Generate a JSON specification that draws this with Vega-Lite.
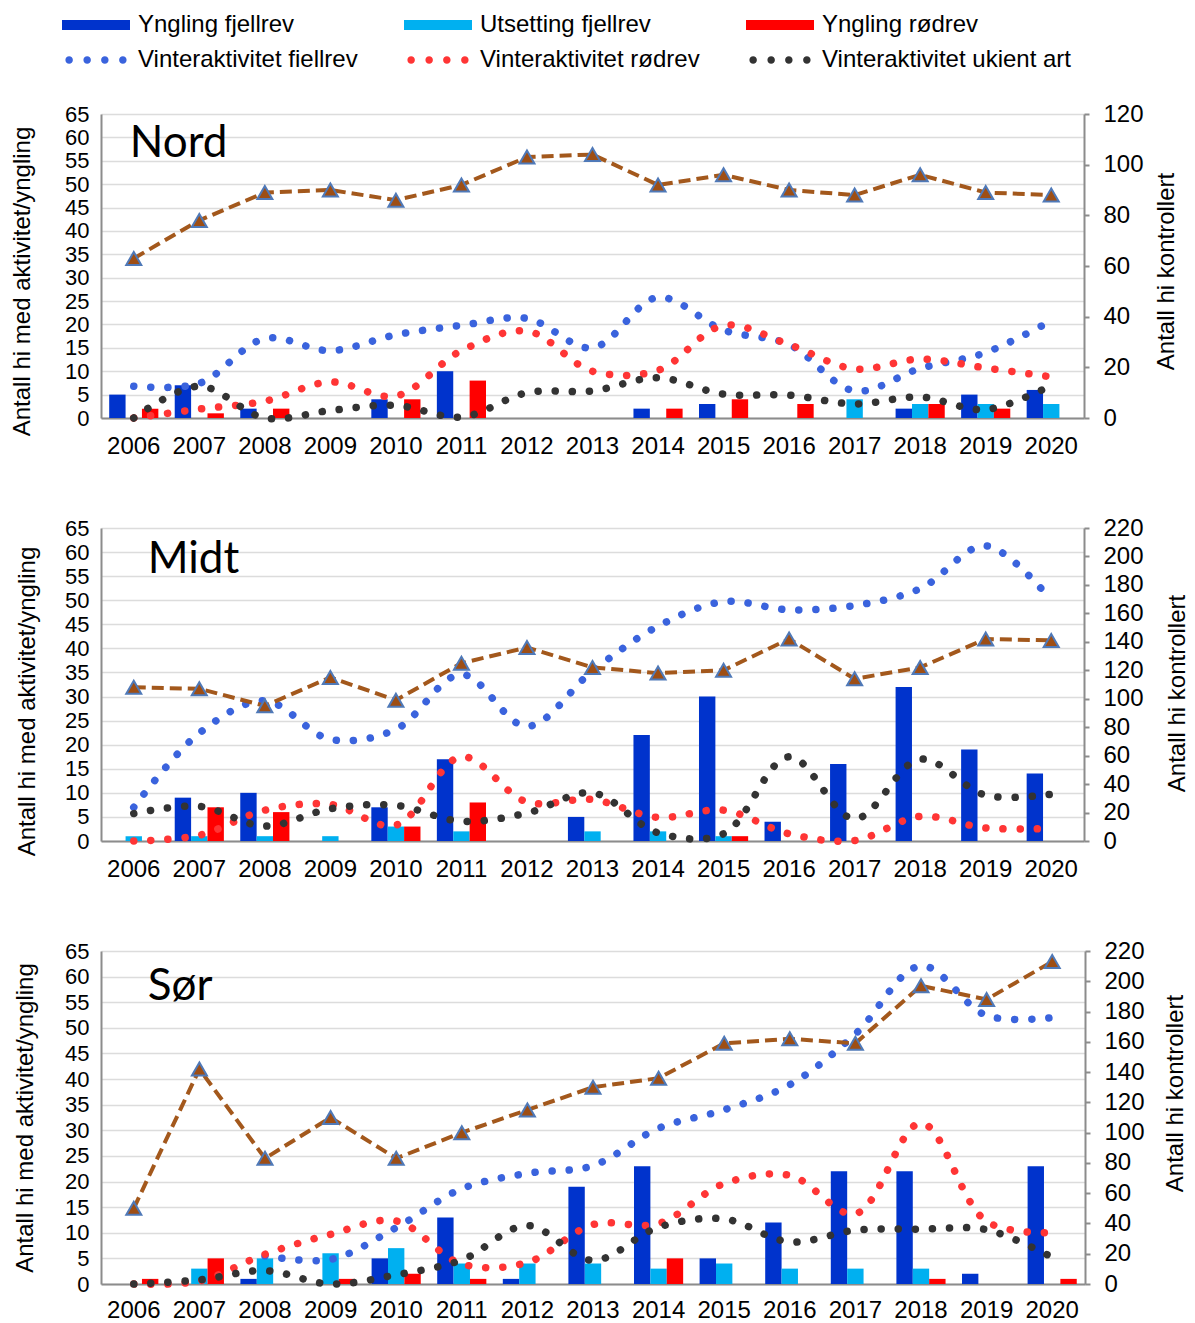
{
  "$schema": "https://vega.github.io/schema/vega-lite/v6.json",
  "padding": {"left": 10, "top": 13, "right": 0, "bottom": 0},
  "autosize": {"type": "pad"},
  "spacing": 58,
  "config": {
    "font": "Liberation Sans",
    "view": {"stroke": null},
    "axis": {"labelFont": "Liberation Sans", "labelFontSize": 24, "labelColor": "#000000", "titleFont": "Liberation Sans", "titleFontSize": 24, "titleFontWeight": "normal", "titleColor": "#000000", "domainColor": "#8C8C8C", "domainWidth": 2, "tickColor": "#8C8C8C", "tickWidth": 2, "gridColor": "#DCDCDC", "gridWidth": 1.5, "labelOverlap": false},
    "axisLeft": {"labelFontSize": 22}
  },
  "resolve": {"scale": {"color": "shared"}, "legend": {"color": "shared"}},
  "datasets": {
    "labels": [{"r": "Nord", "label": "Nord"}, {"r": "Midt", "label": "Midt"}, {"r": "Sør", "label": "Sør"}],
    "bars": [
      {"r": "Nord", "year": "2006", "s": "Yngling fjellrev", "v": 5},
      {"r": "Nord", "year": "2006", "s": "Yngling rødrev", "v": 2},
      {"r": "Nord", "year": "2007", "s": "Yngling fjellrev", "v": 7},
      {"r": "Nord", "year": "2007", "s": "Yngling rødrev", "v": 1},
      {"r": "Nord", "year": "2008", "s": "Yngling fjellrev", "v": 2},
      {"r": "Nord", "year": "2008", "s": "Yngling rødrev", "v": 2},
      {"r": "Nord", "year": "2010", "s": "Yngling fjellrev", "v": 4},
      {"r": "Nord", "year": "2010", "s": "Yngling rødrev", "v": 4},
      {"r": "Nord", "year": "2011", "s": "Yngling fjellrev", "v": 10},
      {"r": "Nord", "year": "2011", "s": "Yngling rødrev", "v": 8},
      {"r": "Nord", "year": "2014", "s": "Yngling fjellrev", "v": 2},
      {"r": "Nord", "year": "2014", "s": "Yngling rødrev", "v": 2},
      {"r": "Nord", "year": "2015", "s": "Yngling fjellrev", "v": 3},
      {"r": "Nord", "year": "2015", "s": "Yngling rødrev", "v": 4},
      {"r": "Nord", "year": "2016", "s": "Yngling rødrev", "v": 3},
      {"r": "Nord", "year": "2017", "s": "Utsetting fjellrev", "v": 4},
      {"r": "Nord", "year": "2018", "s": "Yngling fjellrev", "v": 2},
      {"r": "Nord", "year": "2018", "s": "Utsetting fjellrev", "v": 3},
      {"r": "Nord", "year": "2018", "s": "Yngling rødrev", "v": 3},
      {"r": "Nord", "year": "2019", "s": "Yngling fjellrev", "v": 5},
      {"r": "Nord", "year": "2019", "s": "Utsetting fjellrev", "v": 3},
      {"r": "Nord", "year": "2019", "s": "Yngling rødrev", "v": 2},
      {"r": "Nord", "year": "2020", "s": "Yngling fjellrev", "v": 6},
      {"r": "Nord", "year": "2020", "s": "Utsetting fjellrev", "v": 3},
      {"r": "Midt", "year": "2006", "s": "Utsetting fjellrev", "v": 1},
      {"r": "Midt", "year": "2007", "s": "Yngling fjellrev", "v": 9},
      {"r": "Midt", "year": "2007", "s": "Utsetting fjellrev", "v": 1},
      {"r": "Midt", "year": "2007", "s": "Yngling rødrev", "v": 7},
      {"r": "Midt", "year": "2008", "s": "Yngling fjellrev", "v": 10},
      {"r": "Midt", "year": "2008", "s": "Utsetting fjellrev", "v": 1},
      {"r": "Midt", "year": "2008", "s": "Yngling rødrev", "v": 6},
      {"r": "Midt", "year": "2009", "s": "Utsetting fjellrev", "v": 1},
      {"r": "Midt", "year": "2010", "s": "Yngling fjellrev", "v": 7},
      {"r": "Midt", "year": "2010", "s": "Utsetting fjellrev", "v": 3},
      {"r": "Midt", "year": "2010", "s": "Yngling rødrev", "v": 3},
      {"r": "Midt", "year": "2011", "s": "Yngling fjellrev", "v": 17},
      {"r": "Midt", "year": "2011", "s": "Utsetting fjellrev", "v": 2},
      {"r": "Midt", "year": "2011", "s": "Yngling rødrev", "v": 8},
      {"r": "Midt", "year": "2013", "s": "Yngling fjellrev", "v": 5},
      {"r": "Midt", "year": "2013", "s": "Utsetting fjellrev", "v": 2},
      {"r": "Midt", "year": "2014", "s": "Yngling fjellrev", "v": 22},
      {"r": "Midt", "year": "2014", "s": "Utsetting fjellrev", "v": 2},
      {"r": "Midt", "year": "2015", "s": "Yngling fjellrev", "v": 30},
      {"r": "Midt", "year": "2015", "s": "Utsetting fjellrev", "v": 1},
      {"r": "Midt", "year": "2015", "s": "Yngling rødrev", "v": 1},
      {"r": "Midt", "year": "2016", "s": "Yngling fjellrev", "v": 4},
      {"r": "Midt", "year": "2017", "s": "Yngling fjellrev", "v": 16},
      {"r": "Midt", "year": "2018", "s": "Yngling fjellrev", "v": 32},
      {"r": "Midt", "year": "2019", "s": "Yngling fjellrev", "v": 19},
      {"r": "Midt", "year": "2020", "s": "Yngling fjellrev", "v": 14},
      {"r": "Sør", "year": "2006", "s": "Yngling rødrev", "v": 1},
      {"r": "Sør", "year": "2007", "s": "Utsetting fjellrev", "v": 3},
      {"r": "Sør", "year": "2007", "s": "Yngling rødrev", "v": 5},
      {"r": "Sør", "year": "2008", "s": "Yngling fjellrev", "v": 1},
      {"r": "Sør", "year": "2008", "s": "Utsetting fjellrev", "v": 5},
      {"r": "Sør", "year": "2009", "s": "Utsetting fjellrev", "v": 6},
      {"r": "Sør", "year": "2009", "s": "Yngling rødrev", "v": 1},
      {"r": "Sør", "year": "2010", "s": "Yngling fjellrev", "v": 5},
      {"r": "Sør", "year": "2010", "s": "Utsetting fjellrev", "v": 7},
      {"r": "Sør", "year": "2010", "s": "Yngling rødrev", "v": 2},
      {"r": "Sør", "year": "2011", "s": "Yngling fjellrev", "v": 13},
      {"r": "Sør", "year": "2011", "s": "Utsetting fjellrev", "v": 4},
      {"r": "Sør", "year": "2011", "s": "Yngling rødrev", "v": 1},
      {"r": "Sør", "year": "2012", "s": "Yngling fjellrev", "v": 1},
      {"r": "Sør", "year": "2012", "s": "Utsetting fjellrev", "v": 4},
      {"r": "Sør", "year": "2013", "s": "Yngling fjellrev", "v": 19},
      {"r": "Sør", "year": "2013", "s": "Utsetting fjellrev", "v": 4},
      {"r": "Sør", "year": "2014", "s": "Yngling fjellrev", "v": 23},
      {"r": "Sør", "year": "2014", "s": "Utsetting fjellrev", "v": 3},
      {"r": "Sør", "year": "2014", "s": "Yngling rødrev", "v": 5},
      {"r": "Sør", "year": "2015", "s": "Yngling fjellrev", "v": 5},
      {"r": "Sør", "year": "2015", "s": "Utsetting fjellrev", "v": 4},
      {"r": "Sør", "year": "2016", "s": "Yngling fjellrev", "v": 12},
      {"r": "Sør", "year": "2016", "s": "Utsetting fjellrev", "v": 3},
      {"r": "Sør", "year": "2017", "s": "Yngling fjellrev", "v": 22},
      {"r": "Sør", "year": "2017", "s": "Utsetting fjellrev", "v": 3},
      {"r": "Sør", "year": "2018", "s": "Yngling fjellrev", "v": 22},
      {"r": "Sør", "year": "2018", "s": "Utsetting fjellrev", "v": 3},
      {"r": "Sør", "year": "2018", "s": "Yngling rødrev", "v": 1},
      {"r": "Sør", "year": "2019", "s": "Yngling fjellrev", "v": 2},
      {"r": "Sør", "year": "2020", "s": "Yngling fjellrev", "v": 23},
      {"r": "Sør", "year": "2020", "s": "Yngling rødrev", "v": 1}
    ],
    "winter": [
      {"r": "Nord", "year": "2006", "s": "Vinteraktivitet fiellrev", "v": 6.8},
      {"r": "Nord", "year": "2007", "s": "Vinteraktivitet fiellrev", "v": 7.4},
      {"r": "Nord", "year": "2008", "s": "Vinteraktivitet fiellrev", "v": 17.0},
      {"r": "Nord", "year": "2009", "s": "Vinteraktivitet fiellrev", "v": 14.4},
      {"r": "Nord", "year": "2010", "s": "Vinteraktivitet fiellrev", "v": 17.8},
      {"r": "Nord", "year": "2011", "s": "Vinteraktivitet fiellrev", "v": 19.8},
      {"r": "Nord", "year": "2012", "s": "Vinteraktivitet fiellrev", "v": 21.3},
      {"r": "Nord", "year": "2013", "s": "Vinteraktivitet fiellrev", "v": 15.0},
      {"r": "Nord", "year": "2014", "s": "Vinteraktivitet fiellrev", "v": 25.8},
      {"r": "Nord", "year": "2015", "s": "Vinteraktivitet fiellrev", "v": 18.8},
      {"r": "Nord", "year": "2016", "s": "Vinteraktivitet fiellrev", "v": 15.7},
      {"r": "Nord", "year": "2017", "s": "Vinteraktivitet fiellrev", "v": 5.8},
      {"r": "Nord", "year": "2018", "s": "Vinteraktivitet fiellrev", "v": 10.6},
      {"r": "Nord", "year": "2019", "s": "Vinteraktivitet fiellrev", "v": 14.0},
      {"r": "Nord", "year": "2020", "s": "Vinteraktivitet fiellrev", "v": 20.8},
      {"r": "Nord", "year": "2006", "s": "Vinteraktivitet rødrev", "v": 0},
      {"r": "Nord", "year": "2007", "s": "Vinteraktivitet rødrev", "v": 1.9},
      {"r": "Nord", "year": "2008", "s": "Vinteraktivitet rødrev", "v": 3.6},
      {"r": "Nord", "year": "2009", "s": "Vinteraktivitet rødrev", "v": 7.7},
      {"r": "Nord", "year": "2010", "s": "Vinteraktivitet rødrev", "v": 4.7},
      {"r": "Nord", "year": "2011", "s": "Vinteraktivitet rødrev", "v": 14.4},
      {"r": "Nord", "year": "2012", "s": "Vinteraktivitet rødrev", "v": 18.6},
      {"r": "Nord", "year": "2013", "s": "Vinteraktivitet rødrev", "v": 10.0},
      {"r": "Nord", "year": "2014", "s": "Vinteraktivitet rødrev", "v": 10.2},
      {"r": "Nord", "year": "2015", "s": "Vinteraktivitet rødrev", "v": 19.8},
      {"r": "Nord", "year": "2016", "s": "Vinteraktivitet rødrev", "v": 15.7},
      {"r": "Nord", "year": "2017", "s": "Vinteraktivitet rødrev", "v": 10.5},
      {"r": "Nord", "year": "2018", "s": "Vinteraktivitet rødrev", "v": 12.6},
      {"r": "Nord", "year": "2019", "s": "Vinteraktivitet rødrev", "v": 10.7},
      {"r": "Nord", "year": "2020", "s": "Vinteraktivitet rødrev", "v": 8.8},
      {"r": "Nord", "year": "2006", "s": "Vinteraktivitet ukient art", "v": 0},
      {"r": "Nord", "year": "2007", "s": "Vinteraktivitet ukient art", "v": 6.8},
      {"r": "Nord", "year": "2008", "s": "Vinteraktivitet ukient art", "v": 0},
      {"r": "Nord", "year": "2009", "s": "Vinteraktivitet ukient art", "v": 1.6},
      {"r": "Nord", "year": "2010", "s": "Vinteraktivitet ukient art", "v": 2.7},
      {"r": "Nord", "year": "2011", "s": "Vinteraktivitet ukient art", "v": 0.2},
      {"r": "Nord", "year": "2012", "s": "Vinteraktivitet ukient art", "v": 5.4},
      {"r": "Nord", "year": "2013", "s": "Vinteraktivitet ukient art", "v": 5.8},
      {"r": "Nord", "year": "2014", "s": "Vinteraktivitet ukient art", "v": 8.6},
      {"r": "Nord", "year": "2015", "s": "Vinteraktivitet ukient art", "v": 5.1},
      {"r": "Nord", "year": "2016", "s": "Vinteraktivitet ukient art", "v": 4.9},
      {"r": "Nord", "year": "2017", "s": "Vinteraktivitet ukient art", "v": 3.0},
      {"r": "Nord", "year": "2018", "s": "Vinteraktivitet ukient art", "v": 4.5},
      {"r": "Nord", "year": "2019", "s": "Vinteraktivitet ukient art", "v": 1.8},
      {"r": "Nord", "year": "2020", "s": "Vinteraktivitet ukient art", "v": 7.0},
      {"r": "Midt", "year": "2006", "s": "Vinteraktivitet fiellrev", "v": 7.0},
      {"r": "Midt", "year": "2007", "s": "Vinteraktivitet fiellrev", "v": 22.4},
      {"r": "Midt", "year": "2008", "s": "Vinteraktivitet fiellrev", "v": 29.1},
      {"r": "Midt", "year": "2009", "s": "Vinteraktivitet fiellrev", "v": 21.1},
      {"r": "Midt", "year": "2010", "s": "Vinteraktivitet fiellrev", "v": 23.2},
      {"r": "Midt", "year": "2011", "s": "Vinteraktivitet fiellrev", "v": 34.6},
      {"r": "Midt", "year": "2012", "s": "Vinteraktivitet fiellrev", "v": 23.8},
      {"r": "Midt", "year": "2013", "s": "Vinteraktivitet fiellrev", "v": 35.3},
      {"r": "Midt", "year": "2014", "s": "Vinteraktivitet fiellrev", "v": 44.6},
      {"r": "Midt", "year": "2015", "s": "Vinteraktivitet fiellrev", "v": 49.7},
      {"r": "Midt", "year": "2016", "s": "Vinteraktivitet fiellrev", "v": 48.0},
      {"r": "Midt", "year": "2017", "s": "Vinteraktivitet fiellrev", "v": 48.9},
      {"r": "Midt", "year": "2018", "s": "Vinteraktivitet fiellrev", "v": 52.4},
      {"r": "Midt", "year": "2019", "s": "Vinteraktivitet fiellrev", "v": 61.3},
      {"r": "Midt", "year": "2020", "s": "Vinteraktivitet fiellrev", "v": 50.0},
      {"r": "Midt", "year": "2006", "s": "Vinteraktivitet rødrev", "v": 0},
      {"r": "Midt", "year": "2007", "s": "Vinteraktivitet rødrev", "v": 1.2},
      {"r": "Midt", "year": "2008", "s": "Vinteraktivitet rødrev", "v": 6.4},
      {"r": "Midt", "year": "2009", "s": "Vinteraktivitet rødrev", "v": 7.6},
      {"r": "Midt", "year": "2010", "s": "Vinteraktivitet rødrev", "v": 3.3},
      {"r": "Midt", "year": "2011", "s": "Vinteraktivitet rødrev", "v": 17.5},
      {"r": "Midt", "year": "2012", "s": "Vinteraktivitet rødrev", "v": 8.1},
      {"r": "Midt", "year": "2013", "s": "Vinteraktivitet rødrev", "v": 8.6},
      {"r": "Midt", "year": "2014", "s": "Vinteraktivitet rødrev", "v": 4.9},
      {"r": "Midt", "year": "2015", "s": "Vinteraktivitet rødrev", "v": 6.4},
      {"r": "Midt", "year": "2016", "s": "Vinteraktivitet rødrev", "v": 1.5},
      {"r": "Midt", "year": "2017", "s": "Vinteraktivitet rødrev", "v": 0.1},
      {"r": "Midt", "year": "2018", "s": "Vinteraktivitet rødrev", "v": 5.1},
      {"r": "Midt", "year": "2019", "s": "Vinteraktivitet rødrev", "v": 2.7},
      {"r": "Midt", "year": "2020", "s": "Vinteraktivitet rødrev", "v": 2.6},
      {"r": "Midt", "year": "2006", "s": "Vinteraktivitet ukient art", "v": 5.7},
      {"r": "Midt", "year": "2007", "s": "Vinteraktivitet ukient art", "v": 7.2},
      {"r": "Midt", "year": "2008", "s": "Vinteraktivitet ukient art", "v": 3.1},
      {"r": "Midt", "year": "2009", "s": "Vinteraktivitet ukient art", "v": 6.7},
      {"r": "Midt", "year": "2010", "s": "Vinteraktivitet ukient art", "v": 7.4},
      {"r": "Midt", "year": "2011", "s": "Vinteraktivitet ukient art", "v": 4.1},
      {"r": "Midt", "year": "2012", "s": "Vinteraktivitet ukient art", "v": 5.8},
      {"r": "Midt", "year": "2013", "s": "Vinteraktivitet ukient art", "v": 10.0},
      {"r": "Midt", "year": "2014", "s": "Vinteraktivitet ukient art", "v": 1.7},
      {"r": "Midt", "year": "2015", "s": "Vinteraktivitet ukient art", "v": 1.5},
      {"r": "Midt", "year": "2016", "s": "Vinteraktivitet ukient art", "v": 17.5},
      {"r": "Midt", "year": "2017", "s": "Vinteraktivitet ukient art", "v": 4.6},
      {"r": "Midt", "year": "2018", "s": "Vinteraktivitet ukient art", "v": 17.0},
      {"r": "Midt", "year": "2019", "s": "Vinteraktivitet ukient art", "v": 9.5},
      {"r": "Midt", "year": "2020", "s": "Vinteraktivitet ukient art", "v": 9.7},
      {"r": "Sør", "year": "2008", "s": "Vinteraktivitet fiellrev", "v": 5.5},
      {"r": "Sør", "year": "2009", "s": "Vinteraktivitet fiellrev", "v": 4.8},
      {"r": "Sør", "year": "2010", "s": "Vinteraktivitet fiellrev", "v": 11.0},
      {"r": "Sør", "year": "2011", "s": "Vinteraktivitet fiellrev", "v": 18.6},
      {"r": "Sør", "year": "2012", "s": "Vinteraktivitet fiellrev", "v": 21.6},
      {"r": "Sør", "year": "2013", "s": "Vinteraktivitet fiellrev", "v": 23.1},
      {"r": "Sør", "year": "2014", "s": "Vinteraktivitet fiellrev", "v": 30.4},
      {"r": "Sør", "year": "2015", "s": "Vinteraktivitet fiellrev", "v": 34.0},
      {"r": "Sør", "year": "2016", "s": "Vinteraktivitet fiellrev", "v": 38.9},
      {"r": "Sør", "year": "2017", "s": "Vinteraktivitet fiellrev", "v": 48.8},
      {"r": "Sør", "year": "2018", "s": "Vinteraktivitet fiellrev", "v": 62.1},
      {"r": "Sør", "year": "2019", "s": "Vinteraktivitet fiellrev", "v": 52.4},
      {"r": "Sør", "year": "2020", "s": "Vinteraktivitet fiellrev", "v": 52.0},
      {"r": "Sør", "year": "2006", "s": "Vinteraktivitet rødrev", "v": 0},
      {"r": "Sør", "year": "2007", "s": "Vinteraktivitet rødrev", "v": 0.6},
      {"r": "Sør", "year": "2008", "s": "Vinteraktivitet rødrev", "v": 5.8},
      {"r": "Sør", "year": "2009", "s": "Vinteraktivitet rødrev", "v": 9.7},
      {"r": "Sør", "year": "2010", "s": "Vinteraktivitet rødrev", "v": 12.3},
      {"r": "Sør", "year": "2011", "s": "Vinteraktivitet rødrev", "v": 3.9},
      {"r": "Sør", "year": "2012", "s": "Vinteraktivitet rødrev", "v": 4.2},
      {"r": "Sør", "year": "2013", "s": "Vinteraktivitet rødrev", "v": 11.6},
      {"r": "Sør", "year": "2014", "s": "Vinteraktivitet rødrev", "v": 11.8},
      {"r": "Sør", "year": "2015", "s": "Vinteraktivitet rødrev", "v": 19.6},
      {"r": "Sør", "year": "2016", "s": "Vinteraktivitet rødrev", "v": 21.2},
      {"r": "Sør", "year": "2017", "s": "Vinteraktivitet rødrev", "v": 13.7},
      {"r": "Sør", "year": "2018", "s": "Vinteraktivitet rødrev", "v": 31.4},
      {"r": "Sør", "year": "2019", "s": "Vinteraktivitet rødrev", "v": 12.2},
      {"r": "Sør", "year": "2020", "s": "Vinteraktivitet rødrev", "v": 10.0},
      {"r": "Sør", "year": "2006", "s": "Vinteraktivitet ukient art", "v": 0},
      {"r": "Sør", "year": "2007", "s": "Vinteraktivitet ukient art", "v": 0.8},
      {"r": "Sør", "year": "2008", "s": "Vinteraktivitet ukient art", "v": 2.6},
      {"r": "Sør", "year": "2009", "s": "Vinteraktivitet ukient art", "v": 0},
      {"r": "Sør", "year": "2010", "s": "Vinteraktivitet ukient art", "v": 1.8},
      {"r": "Sør", "year": "2011", "s": "Vinteraktivitet ukient art", "v": 4.7},
      {"r": "Sør", "year": "2012", "s": "Vinteraktivitet ukient art", "v": 11.4},
      {"r": "Sør", "year": "2013", "s": "Vinteraktivitet ukient art", "v": 4.6},
      {"r": "Sør", "year": "2014", "s": "Vinteraktivitet ukient art", "v": 11.1},
      {"r": "Sør", "year": "2015", "s": "Vinteraktivitet ukient art", "v": 12.7},
      {"r": "Sør", "year": "2016", "s": "Vinteraktivitet ukient art", "v": 8.2},
      {"r": "Sør", "year": "2017", "s": "Vinteraktivitet ukient art", "v": 10.5},
      {"r": "Sør", "year": "2018", "s": "Vinteraktivitet ukient art", "v": 10.7},
      {"r": "Sør", "year": "2019", "s": "Vinteraktivitet ukient art", "v": 10.6},
      {"r": "Sør", "year": "2020", "s": "Vinteraktivitet ukient art", "v": 5.2}
    ],
    "ctrl": [
      {"r": "Nord", "year": "2006", "v": 63}, {"r": "Nord", "year": "2007", "v": 78}, {"r": "Nord", "year": "2008", "v": 89},
      {"r": "Nord", "year": "2009", "v": 90}, {"r": "Nord", "year": "2010", "v": 86}, {"r": "Nord", "year": "2011", "v": 92},
      {"r": "Nord", "year": "2012", "v": 103}, {"r": "Nord", "year": "2013", "v": 104}, {"r": "Nord", "year": "2014", "v": 92},
      {"r": "Nord", "year": "2015", "v": 96}, {"r": "Nord", "year": "2016", "v": 90}, {"r": "Nord", "year": "2017", "v": 88},
      {"r": "Nord", "year": "2018", "v": 96}, {"r": "Nord", "year": "2019", "v": 89}, {"r": "Nord", "year": "2020", "v": 88},
      {"r": "Midt", "year": "2006", "v": 108}, {"r": "Midt", "year": "2007", "v": 107}, {"r": "Midt", "year": "2008", "v": 95},
      {"r": "Midt", "year": "2009", "v": 115}, {"r": "Midt", "year": "2010", "v": 99}, {"r": "Midt", "year": "2011", "v": 125},
      {"r": "Midt", "year": "2012", "v": 136}, {"r": "Midt", "year": "2013", "v": 122}, {"r": "Midt", "year": "2014", "v": 118},
      {"r": "Midt", "year": "2015", "v": 120}, {"r": "Midt", "year": "2016", "v": 142}, {"r": "Midt", "year": "2017", "v": 114},
      {"r": "Midt", "year": "2018", "v": 122}, {"r": "Midt", "year": "2019", "v": 142}, {"r": "Midt", "year": "2020", "v": 141},
      {"r": "Sør", "year": "2006", "v": 50}, {"r": "Sør", "year": "2007", "v": 142}, {"r": "Sør", "year": "2008", "v": 83},
      {"r": "Sør", "year": "2009", "v": 110}, {"r": "Sør", "year": "2010", "v": 83}, {"r": "Sør", "year": "2011", "v": 100},
      {"r": "Sør", "year": "2012", "v": 115}, {"r": "Sør", "year": "2013", "v": 130}, {"r": "Sør", "year": "2014", "v": 136},
      {"r": "Sør", "year": "2015", "v": 159}, {"r": "Sør", "year": "2016", "v": 162}, {"r": "Sør", "year": "2017", "v": 159},
      {"r": "Sør", "year": "2018", "v": 197}, {"r": "Sør", "year": "2019", "v": 188}, {"r": "Sør", "year": "2020", "v": 213}
    ]
  },
  "vconcat": [
    {
      "width": 983, "height": 304,
      "resolve": {"scale": {"y": "independent"}},
      "layer": [
        {
          "layer": [
            {
              "data": {"name": "bars"},
              "transform": [{"filter": "datum.r === 'Nord'"}],
              "mark": {"type": "bar"},
              "encoding": {
                "x": {"field": "year", "type": "nominal", "scale": {"domain": ["2006","2007","2008","2009","2010","2011","2012","2013","2014","2015","2016","2017","2018","2019","2020"], "paddingInner": 0.25, "paddingOuter": 0.125}, "axis": {"title": null, "labelAngle": 0, "ticks": false, "tickSize": 0, "labelPadding": 16, "grid": false}},
                "xOffset": {"field": "s", "type": "nominal", "scale": {"domain": ["Yngling fjellrev", "Utsetting fjellrev", "Yngling rødrev"], "paddingInner": 0, "paddingOuter": 0}},
                "y": {"field": "v", "type": "quantitative", "scale": {"domain": [0, 65], "nice": false}, "axis": {"orient": "left", "values": [0,5,10,15,20,25,30,35,40,45,50,55,60,65], "title": "Antall hi med aktivitet/yngling", "ticks": false, "tickSize": 0, "labelPadding": 12, "titlePadding": 30, "titleY": 167, "grid": true}},
                "color": {"field": "s", "type": "nominal",
                  "scale": {"domain": ["Yngling fjellrev", "Utsetting fjellrev", "Yngling rødrev", "Vinteraktivitet fiellrev", "Vinteraktivitet rødrev", "Vinteraktivitet ukient art"], "range": ["#0033CC", "#00B0F0", "#FF0000", "#3A63DD", "#FF3535", "#333333"]},
                  "legend": {
                    "title": null, "orient": "none", "direction": "horizontal", "legendX": -39, "legendY": -101, "columns": 3, "gridAlign": "all",
                    "columnPadding": 16, "rowPadding": 11, "symbolSize": 4624, "labelFont": "Liberation Sans", "labelFontSize": 24,
                    "labelColor": "#000000", "labelLimit": 400, "labelOffset": 8, "clipHeight": 24, "symbolStrokeWidth": 0,
                    "encode": {"symbols": {"update": {"shape": {"signal": "indexof(datum.value, 'Vinter') === 0 ? 'M-0.9,0a0.11,0.11 0 1,0 0.22,0a0.11,0.11 0 1,0 -0.22,0M-0.37,0a0.11,0.11 0 1,0 0.22,0a0.11,0.11 0 1,0 -0.22,0M0.15,0a0.11,0.11 0 1,0 0.22,0a0.11,0.11 0 1,0 -0.22,0M0.68,0a0.11,0.11 0 1,0 0.22,0a0.11,0.11 0 1,0 -0.22,0' : 'M-1,-0.15H1V0.15H-1Z'"}}}}
                  }
                }
              }
            },
            {
              "data": {"name": "winter"},
              "transform": [{"filter": "datum.r === 'Nord'"}],
              "mark": {"type": "line", "interpolate": "catmull-rom", "strokeDash": [0.1, 17], "strokeCap": "round", "strokeWidth": 7.5},
              "encoding": {
                "x": {"field": "year", "type": "nominal", "scale": {"domain": ["2006","2007","2008","2009","2010","2011","2012","2013","2014","2015","2016","2017","2018","2019","2020"], "paddingInner": 0.25, "paddingOuter": 0.125}, "axis": {"title": null, "labelAngle": 0, "ticks": false, "tickSize": 0, "labelPadding": 16, "grid": false}},
                "y": {"field": "v", "type": "quantitative", "scale": {"domain": [0, 65], "nice": false}, "axis": {"orient": "left", "values": [0,5,10,15,20,25,30,35,40,45,50,55,60,65], "title": "Antall hi med aktivitet/yngling", "ticks": false, "tickSize": 0, "labelPadding": 12, "titlePadding": 30, "titleY": 167, "grid": true}},
                "color": {"field": "s", "type": "nominal", "scale": {"domain": ["Yngling fjellrev", "Utsetting fjellrev", "Yngling rødrev", "Vinteraktivitet fiellrev", "Vinteraktivitet rødrev", "Vinteraktivitet ukient art"], "range": ["#0033CC", "#00B0F0", "#FF0000", "#3A63DD", "#FF3535", "#333333"]}, "legend": null}
              }
            },
            {
              "data": {"name": "labels"},
              "transform": [{"filter": "datum.r === 'Nord'"}],
              "mark": {"type": "text", "align": "left", "baseline": "alphabetic", "dx": -4, "dy": 43, "font": "Lato", "fontSize": 44, "color": "#000000"},
              "encoding": {
                "x": {"datum": "2006", "type": "nominal", "axis": {"title": null, "labelAngle": 0, "ticks": false, "tickSize": 0, "labelPadding": 16, "grid": false}},
                "y": {"datum": 65, "type": "quantitative", "axis": {"orient": "left", "values": [0,5,10,15,20,25,30,35,40,45,50,55,60,65], "title": "Antall hi med aktivitet/yngling", "ticks": false, "tickSize": 0, "labelPadding": 12, "titlePadding": 30, "titleY": 167, "grid": true}},
                "text": {"field": "label"}
              }
            }
          ]
        },
        {
          "data": {"name": "ctrl"},
          "transform": [{"filter": "datum.r === 'Nord'"}],
          "encoding": {
            "x": {"field": "year", "type": "nominal", "axis": {"title": null, "labelAngle": 0, "ticks": false, "tickSize": 0, "labelPadding": 16, "grid": false}},
            "y": {"field": "v", "type": "quantitative", "scale": {"domain": [0, 120], "nice": false}, "axis": {"orient": "right", "values": [0,20,40,60,80,100,120], "title": "Antall hi kontrollert", "titleAngle": 270, "titleBaseline": "top", "titlePadding": 11, "titleY": 157, "ticks": true, "tickSize": 5, "labelPadding": 14, "grid": false}}
          },
          "layer": [
            {"mark": {"type": "line", "color": "#A3581C", "strokeDash": [12, 6], "strokeWidth": 4}},
            {"mark": {"type": "point", "shape": "triangle-up", "filled": true, "fill": "#9E4E14", "stroke": "#4F79B8", "strokeWidth": 2, "size": 225, "opacity": 1}}
          ]
        }
      ]
    },
    {
      "width": 983, "height": 313,
      "resolve": {"scale": {"y": "independent"}},
      "layer": [
        {
          "layer": [
            {
              "data": {"name": "bars"},
              "transform": [{"filter": "datum.r === 'Midt'"}],
              "mark": {"type": "bar"},
              "encoding": {
                "x": {"field": "year", "type": "nominal", "scale": {"domain": ["2006","2007","2008","2009","2010","2011","2012","2013","2014","2015","2016","2017","2018","2019","2020"], "paddingInner": 0.25, "paddingOuter": 0.125}, "axis": {"title": null, "labelAngle": 0, "ticks": false, "tickSize": 0, "labelPadding": 16, "grid": false}},
                "xOffset": {"field": "s", "type": "nominal", "scale": {"domain": ["Yngling fjellrev", "Utsetting fjellrev", "Yngling rødrev"], "paddingInner": 0, "paddingOuter": 0}},
                "y": {"field": "v", "type": "quantitative", "scale": {"domain": [0, 65], "nice": false}, "axis": {"orient": "left", "values": [0,5,10,15,20,25,30,35,40,45,50,55,60,65], "title": "Antall hi med aktivitet/yngling", "ticks": false, "tickSize": 0, "labelPadding": 12, "titlePadding": 25, "titleY": 173, "grid": true}},
                "color": {"field": "s", "type": "nominal", "scale": {"domain": ["Yngling fjellrev", "Utsetting fjellrev", "Yngling rødrev", "Vinteraktivitet fiellrev", "Vinteraktivitet rødrev", "Vinteraktivitet ukient art"], "range": ["#0033CC", "#00B0F0", "#FF0000", "#3A63DD", "#FF3535", "#333333"]}, "legend": null}
              }
            },
            {
              "data": {"name": "winter"},
              "transform": [{"filter": "datum.r === 'Midt'"}],
              "mark": {"type": "line", "interpolate": "catmull-rom", "strokeDash": [0.1, 17], "strokeCap": "round", "strokeWidth": 7.5},
              "encoding": {
                "x": {"field": "year", "type": "nominal", "scale": {"domain": ["2006","2007","2008","2009","2010","2011","2012","2013","2014","2015","2016","2017","2018","2019","2020"], "paddingInner": 0.25, "paddingOuter": 0.125}, "axis": {"title": null, "labelAngle": 0, "ticks": false, "tickSize": 0, "labelPadding": 16, "grid": false}},
                "y": {"field": "v", "type": "quantitative", "scale": {"domain": [0, 65], "nice": false}, "axis": {"orient": "left", "values": [0,5,10,15,20,25,30,35,40,45,50,55,60,65], "title": "Antall hi med aktivitet/yngling", "ticks": false, "tickSize": 0, "labelPadding": 12, "titlePadding": 25, "titleY": 173, "grid": true}},
                "color": {"field": "s", "type": "nominal", "scale": {"domain": ["Yngling fjellrev", "Utsetting fjellrev", "Yngling rødrev", "Vinteraktivitet fiellrev", "Vinteraktivitet rødrev", "Vinteraktivitet ukient art"], "range": ["#0033CC", "#00B0F0", "#FF0000", "#3A63DD", "#FF3535", "#333333"]}, "legend": null}
              }
            },
            {
              "data": {"name": "labels"},
              "transform": [{"filter": "datum.r === 'Midt'"}],
              "mark": {"type": "text", "align": "left", "baseline": "alphabetic", "dx": 14, "dy": 45, "font": "Lato", "fontSize": 44, "color": "#000000"},
              "encoding": {
                "x": {"datum": "2006", "type": "nominal", "axis": {"title": null, "labelAngle": 0, "ticks": false, "tickSize": 0, "labelPadding": 16, "grid": false}},
                "y": {"datum": 65, "type": "quantitative", "axis": {"orient": "left", "values": [0,5,10,15,20,25,30,35,40,45,50,55,60,65], "title": "Antall hi med aktivitet/yngling", "ticks": false, "tickSize": 0, "labelPadding": 12, "titlePadding": 25, "titleY": 173, "grid": true}},
                "text": {"field": "label"}
              }
            }
          ]
        },
        {
          "data": {"name": "ctrl"},
          "transform": [{"filter": "datum.r === 'Midt'"}],
          "encoding": {
            "x": {"field": "year", "type": "nominal", "axis": {"title": null, "labelAngle": 0, "ticks": false, "tickSize": 0, "labelPadding": 16, "grid": false}},
            "y": {"field": "v", "type": "quantitative", "scale": {"domain": [0, 220], "nice": false}, "axis": {"orient": "right", "values": [0,20,40,60,80,100,120,140,160,180,200,220], "title": "Antall hi kontrollert", "titleAngle": 270, "titleBaseline": "top", "titlePadding": 22, "titleY": 165, "ticks": true, "tickSize": 5, "labelPadding": 14, "grid": false}}
          },
          "layer": [
            {"mark": {"type": "line", "color": "#A3581C", "strokeDash": [12, 6], "strokeWidth": 4}},
            {"mark": {"type": "point", "shape": "triangle-up", "filled": true, "fill": "#9E4E14", "stroke": "#4F79B8", "strokeWidth": 2, "size": 225, "opacity": 1}}
          ]
        }
      ]
    },
    {
      "width": 984, "height": 333,
      "resolve": {"scale": {"y": "independent"}},
      "layer": [
        {
          "layer": [
            {
              "data": {"name": "bars"},
              "transform": [{"filter": "datum.r === 'Sør'"}],
              "mark": {"type": "bar"},
              "encoding": {
                "x": {"field": "year", "type": "nominal", "scale": {"domain": ["2006","2007","2008","2009","2010","2011","2012","2013","2014","2015","2016","2017","2018","2019","2020"], "paddingInner": 0.25, "paddingOuter": 0.125}, "axis": {"title": null, "labelAngle": 0, "ticks": false, "tickSize": 0, "labelPadding": 14, "grid": false}},
                "xOffset": {"field": "s", "type": "nominal", "scale": {"domain": ["Yngling fjellrev", "Utsetting fjellrev", "Yngling rødrev"], "paddingInner": 0, "paddingOuter": 0}},
                "y": {"field": "v", "type": "quantitative", "scale": {"domain": [0, 65], "nice": false}, "axis": {"orient": "left", "values": [0,5,10,15,20,25,30,35,40,45,50,55,60,65], "title": "Antall hi med aktivitet/yngling", "ticks": false, "tickSize": 0, "labelPadding": 12, "titlePadding": 27, "grid": true}},
                "color": {"field": "s", "type": "nominal", "scale": {"domain": ["Yngling fjellrev", "Utsetting fjellrev", "Yngling rødrev", "Vinteraktivitet fiellrev", "Vinteraktivitet rødrev", "Vinteraktivitet ukient art"], "range": ["#0033CC", "#00B0F0", "#FF0000", "#3A63DD", "#FF3535", "#333333"]}, "legend": null}
              }
            },
            {
              "data": {"name": "winter"},
              "transform": [{"filter": "datum.r === 'Sør'"}],
              "mark": {"type": "line", "interpolate": "catmull-rom", "strokeDash": [0.1, 17], "strokeCap": "round", "strokeWidth": 7.5},
              "encoding": {
                "x": {"field": "year", "type": "nominal", "scale": {"domain": ["2006","2007","2008","2009","2010","2011","2012","2013","2014","2015","2016","2017","2018","2019","2020"], "paddingInner": 0.25, "paddingOuter": 0.125}, "axis": {"title": null, "labelAngle": 0, "ticks": false, "tickSize": 0, "labelPadding": 14, "grid": false}},
                "y": {"field": "v", "type": "quantitative", "scale": {"domain": [0, 65], "nice": false}, "axis": {"orient": "left", "values": [0,5,10,15,20,25,30,35,40,45,50,55,60,65], "title": "Antall hi med aktivitet/yngling", "ticks": false, "tickSize": 0, "labelPadding": 12, "titlePadding": 27, "grid": true}},
                "color": {"field": "s", "type": "nominal", "scale": {"domain": ["Yngling fjellrev", "Utsetting fjellrev", "Yngling rødrev", "Vinteraktivitet fiellrev", "Vinteraktivitet rødrev", "Vinteraktivitet ukient art"], "range": ["#0033CC", "#00B0F0", "#FF0000", "#3A63DD", "#FF3535", "#333333"]}, "legend": null}
              }
            },
            {
              "data": {"name": "labels"},
              "transform": [{"filter": "datum.r === 'Sør'"}],
              "mark": {"type": "text", "align": "left", "baseline": "alphabetic", "dx": 14, "dy": 49, "font": "Lato", "fontSize": 44, "color": "#000000"},
              "encoding": {
                "x": {"datum": "2006", "type": "nominal", "axis": {"title": null, "labelAngle": 0, "ticks": false, "tickSize": 0, "labelPadding": 14, "grid": false}},
                "y": {"datum": 65, "type": "quantitative", "axis": {"orient": "left", "values": [0,5,10,15,20,25,30,35,40,45,50,55,60,65], "title": "Antall hi med aktivitet/yngling", "ticks": false, "tickSize": 0, "labelPadding": 12, "titlePadding": 27, "grid": true}},
                "text": {"field": "label"}
              }
            }
          ]
        },
        {
          "data": {"name": "ctrl"},
          "transform": [{"filter": "datum.r === 'Sør'"}],
          "encoding": {
            "x": {"field": "year", "type": "nominal", "axis": {"title": null, "labelAngle": 0, "ticks": false, "tickSize": 0, "labelPadding": 14, "grid": false}},
            "y": {"field": "v", "type": "quantitative", "scale": {"domain": [0, 220], "nice": false}, "axis": {"orient": "right", "values": [0,20,40,60,80,100,120,140,160,180,200,220], "title": "Antall hi kontrollert", "titleAngle": 270, "titleBaseline": "top", "titlePadding": 19, "titleY": 142, "ticks": true, "tickSize": 5, "labelPadding": 14, "grid": false}}
          },
          "layer": [
            {"mark": {"type": "line", "color": "#A3581C", "strokeDash": [12, 6], "strokeWidth": 4}},
            {"mark": {"type": "point", "shape": "triangle-up", "filled": true, "fill": "#9E4E14", "stroke": "#4F79B8", "strokeWidth": 2, "size": 225, "opacity": 1}}
          ]
        }
      ]
    }
  ]
}
